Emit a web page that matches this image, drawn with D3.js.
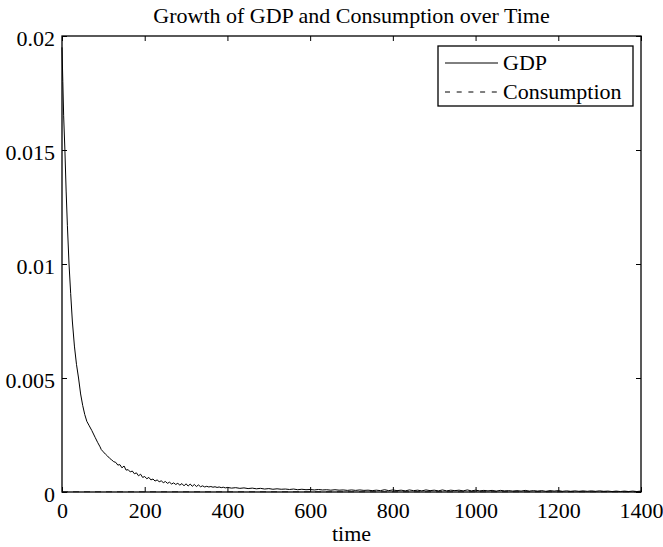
<!DOCTYPE html>
<html>
<head>
<meta charset="utf-8">
<script src="https://cdn.jsdelivr.net/npm/d3@7"></script>
<style>
  html, body { margin: 0; padding: 0; background: #fff; }
  svg { display: block; }
  text { font-family: "Liberation Serif", "Times New Roman", serif; fill: #000; }
</style>
</head>
<body>
<svg id="chart" width="663" height="547"></svg>
<script>
// ---- data ----
const titleText = "Growth of GDP and Consumption over Time";
const xLabelText = "time";
const seriesNames = ["GDP", "Consumption"];

const xTicks = [0, 200, 400, 600, 800, 1000, 1200, 1400];
const yTicks = [0, 0.005, 0.01, 0.015, 0.02];

const gdpTime = [
  0, 2, 4, 7, 10, 13, 17, 21, 25, 30, 35, 40, 45, 50, 55, 60, 66, 72, 80, 86, 92,
  95, 100, 105, 110, 115, 120, 125, 130, 135, 140, 145, 150, 155, 160, 165, 170,
  175, 180, 185, 190, 195, 200, 205, 210, 215, 220, 225, 230, 235, 240, 245, 250,
  255, 260, 265, 270, 275, 280, 285, 290, 295, 300, 305, 310, 315, 320, 325, 330,
  335, 340, 345, 350, 355, 360, 365, 370, 375, 380, 385, 390, 395, 400,
  410, 420, 430, 440, 450, 460, 470, 480, 490, 500, 510, 520, 530, 540, 550, 560,
  570, 580, 590, 600, 610, 620, 630, 640, 650, 660, 670, 680, 690, 700, 710, 720,
  730, 740, 750, 760, 770, 780, 790, 800, 810, 820, 830, 840, 850, 860, 870, 880,
  890, 900, 910, 920, 930, 940, 950, 960, 970, 980, 990, 1000, 1010, 1020, 1030,
  1040, 1050, 1060, 1070, 1080, 1090, 1100, 1110, 1120, 1130, 1140, 1150, 1160,
  1170, 1180, 1190, 1200, 1210, 1220, 1230, 1240, 1250, 1260, 1270, 1280, 1290,
  1300, 1310, 1320, 1330, 1340, 1350, 1360, 1370, 1380, 1390, 1400
];
const gdpValues = [
  0.0195, 0.0180, 0.0165, 0.0150, 0.0132, 0.0117, 0.0100, 0.0087, 0.0075, 0.0064,
  0.0056, 0.0050, 0.0043, 0.0038, 0.0034, 0.0031, 0.0029, 0.0027, 0.00240, 0.00218, 0.00198,
  0.00186, 0.00176, 0.00166, 0.00158, 0.00148, 0.00141, 0.00133, 0.00130, 0.00118,
  0.00120, 0.00106, 0.00114, 0.00096, 0.00098, 0.00088, 0.00092, 0.00080, 0.00084,
  0.00071, 0.00078, 0.00064, 0.00068, 0.00058, 0.00064, 0.00053, 0.00057, 0.00048,
  0.00053, 0.00045, 0.00049, 0.00041, 0.00046, 0.00038, 0.00043, 0.00035, 0.00040,
  0.00033, 0.00038, 0.00030, 0.00037, 0.00027, 0.00036, 0.00026, 0.00035, 0.00025,
  0.00033, 0.00024, 0.00031, 0.00023, 0.00027, 0.00022, 0.00025, 0.00022, 0.00024,
  0.00021, 0.00023, 0.00020, 0.00022, 0.00019, 0.00021, 0.00018, 0.00020,
  0.00017, 0.00019, 0.00016, 0.00018, 0.00015, 0.00017, 0.00014, 0.00016, 0.00013,
  0.00015, 0.00012, 0.00014, 0.00012, 0.00013, 0.00011, 0.00013, 0.00010, 0.00012,
  0.00010, 0.00011, 0.00009, 0.00011, 0.00009, 0.00010, 0.00008, 0.00010, 0.00008,
  0.00009, 0.00007, 0.00009, 0.00007, 0.00009, 0.00007, 0.00008, 0.00006, 0.00008,
  0.00006, 0.00010, 0.00006, 0.00009, 0.00006, 0.00008, 0.00005, 0.00009, 0.00006,
  0.00008, 0.00005, 0.00009, 0.00006, 0.00008, 0.00005, 0.00009, 0.00005, 0.00008,
  0.00006, 0.00008, 0.00005, 0.00009, 0.00005, 0.00008, 0.00005, 0.00007, 0.00005,
  0.00007, 0.00004, 0.00007, 0.00005, 0.00006, 0.00004, 0.00006, 0.00004, 0.00007,
  0.00004, 0.00006, 0.00004, 0.00006, 0.00003, 0.00006, 0.00004, 0.00006, 0.00003,
  0.00005, 0.00003, 0.00005, 0.00003, 0.00005, 0.00003, 0.00005, 0.00003, 0.00005,
  0.00003, 0.00004, 0.00002, 0.00004, 0.00002, 0.00004, 0.00002, 0.00004, 0.00002,
  0.00004
];

const consTime = [0, 200, 400, 600, 800, 1000, 1200, 1400];
const consValues = [0.00001, 0.00001, 0.00001, 0.00001, 0.00001, 0.00001, 0.00001, 0.00001];

// ---- layout ----
const svg = d3.select("#chart");
const plot = { left: 62, right: 641, top: 36, bottom: 492 };

const x = d3.scaleLinear().domain([0, 1400]).range([plot.left, plot.right]);
const y = d3.scaleLinear().domain([0, 0.02]).range([plot.bottom, plot.top]);

const fontSize = 22;

// title
svg.append("text")
  .attr("x", (plot.left + plot.right) / 2)
  .attr("y", 23)
  .attr("text-anchor", "middle")
  .attr("font-size", fontSize)
  .text(titleText);

// axes (ticks point inward, MATLAB style)
const gx = svg.append("g")
  .attr("transform", `translate(0,${plot.bottom})`)
  .call(d3.axisBottom(x).tickValues(xTicks).tickSizeInner(-5).tickSizeOuter(0)
        .tickPadding(10).tickFormat(d3.format("d")));
const gxTop = svg.append("g")
  .attr("transform", `translate(0,${plot.top})`)
  .call(d3.axisTop(x).tickValues(xTicks).tickSizeInner(-5).tickSizeOuter(0).tickFormat(""));
const gy = svg.append("g")
  .attr("transform", `translate(${plot.left},0)`)
  .call(d3.axisLeft(y).tickValues(yTicks).tickSizeInner(-5).tickSizeOuter(0)
        .tickPadding(7).tickFormat(d3.format("~g")));
const gyRight = svg.append("g")
  .attr("transform", `translate(${plot.right},0)`)
  .call(d3.axisRight(y).tickValues(yTicks).tickSizeInner(-5).tickSizeOuter(0).tickFormat(""));

[gx, gxTop, gy, gyRight].forEach(g => {
  g.select(".domain").remove();
  g.selectAll(".tick line").attr("stroke", "#000");
  g.selectAll("text")
    .attr("font-size", fontSize)
    .attr("fill", "#000");
});
gy.selectAll("text").attr("dy", "0.45em");

// x axis label
svg.append("text")
  .attr("x", (plot.left + plot.right) / 2)
  .attr("y", 541)
  .attr("text-anchor", "middle")
  .attr("font-size", fontSize)
  .text(xLabelText);

// series lines
const gdpData = gdpTime.map((t, i) => [t, gdpValues[i]]);
const consData = consTime.map((t, i) => [t, consValues[i]]);
const line = d3.line().x(d => x(d[0])).y(d => y(d[1]));

svg.append("path")
  .datum(consData)
  .attr("fill", "none")
  .attr("stroke", "#444")
  .attr("stroke-width", 1)
  .attr("stroke-dasharray", "6,5")
  .attr("d", line);

svg.append("path")
  .datum(gdpData)
  .attr("fill", "none")
  .attr("stroke", "#000")
  .attr("stroke-width", 1)
  .attr("d", line);

// frame
svg.append("rect")
  .attr("x", plot.left)
  .attr("y", plot.top)
  .attr("width", plot.right - plot.left)
  .attr("height", plot.bottom - plot.top)
  .attr("fill", "none")
  .attr("stroke", "#000")
  .attr("stroke-width", 1.3);

// legend
const legend = { x: 438, y: 46, w: 195, h: 60 };
const lg = svg.append("g");
lg.append("rect")
  .attr("x", legend.x).attr("y", legend.y)
  .attr("width", legend.w).attr("height", legend.h)
  .attr("fill", "#fff").attr("stroke", "#000").attr("stroke-width", 1.3);

const legendRows = [
  { name: seriesNames[0], dash: null, yy: legend.y + 17 },
  { name: seriesNames[1], dash: "5,6.7", yy: legend.y + 46 }
];
legendRows.forEach(r => {
  lg.append("line")
    .attr("x1", legend.x + 7).attr("x2", legend.x + 60)
    .attr("y1", r.yy).attr("y2", r.yy)
    .attr("stroke", "#000").attr("stroke-width", 1)
    .attr("stroke-dasharray", r.dash);
  lg.append("text")
    .attr("x", legend.x + 65)
    .attr("y", r.yy + 7)
    .attr("font-size", fontSize)
    .text(r.name);
});
</script>
</body>
</html>
